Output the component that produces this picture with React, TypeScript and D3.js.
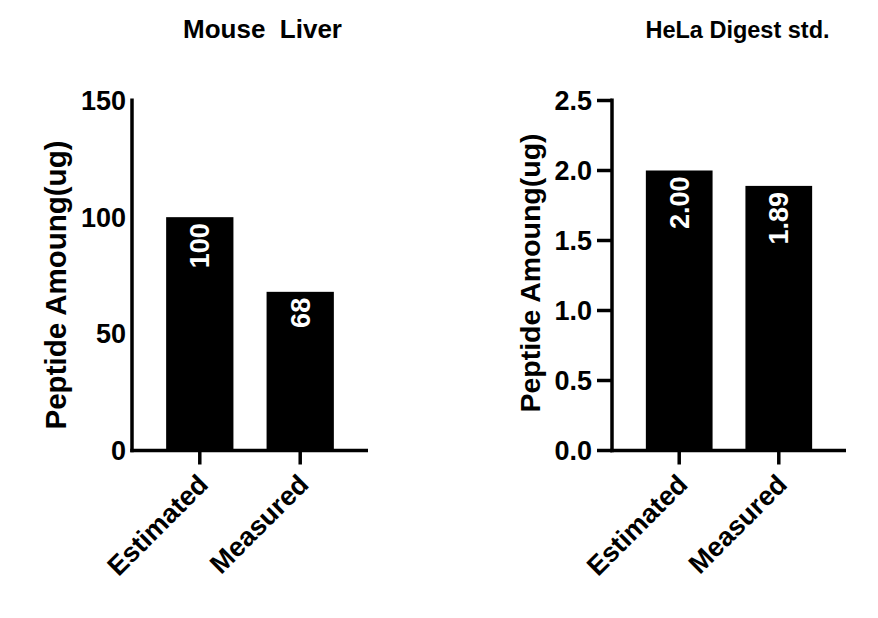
import * as d3 from 'd3';

// chart data
const categories = ['Estimated', 'Measured'];
const mouseLiverValues = [100, 68];
const mouseLiverTicks = [0, 50, 100, 150];
const helaValues = [2.0, 1.89];
const helaTicks = [0, 0.5, 1.0, 1.5, 2.0, 2.5];
const panelTitles = ['Mouse  Liver', 'HeLa Digest std.'];
const yAxisTitle = 'Peptide Amoung(ug)';

const FONT = "'Liberation Sans', Arial, sans-serif";
const W = 878;
const H = 618;

const Panel = ({ values, ticks, title, titleX, titleSize, tickFmt, valueFmt, left, right, showTicks, labelX, labelY, labelSize }) => {
  const baseY = 450.5;
  const x = d3.scaleBand().domain(categories).range([left, right]).paddingInner(0.33).paddingOuter(0.34);
  const y = d3.scaleLinear().domain([0, d3.max(ticks)]).range([baseY, 100.5]);
  const fy = d3.format(tickFmt);
  const fv = d3.format(valueFmt);
  const tickLen = 14;

  return (
    <g>
      <text
        x={titleX}
        y={38}
        textAnchor="middle"
        fontSize={titleSize}
        fontWeight="bold"
        style={{ whiteSpace: 'pre' }}
      >
        {title}
      </text>

      {categories.map((c, i) => (
        <rect key={c} x={x(c)} y={y(values[i])} width={x.bandwidth()} height={baseY - y(values[i])} fill="#000" />
      ))}

      {categories.map((c, i) => {
        const cx = x(c) + x.bandwidth() / 2;
        return (
          <text
            key={c}
            transform={`translate(${cx},${y(values[i]) + 6}) rotate(-90)`}
            textAnchor="end"
            dy="0.35em"
            fill="#fff"
            fontSize={27}
            fontWeight="bold"
          >
            {fv(values[i])}
          </text>
        );
      })}

      {/* axes */}
      <line x1={left} x2={left} y1={y(d3.max(ticks)) - 2} y2={baseY + 1.75} stroke="#000" strokeWidth={3.5} />
      <line x1={left - 1.75} x2={right} y1={baseY} y2={baseY} stroke="#000" strokeWidth={3.5} />

      {ticks.map(t => (
        <g key={t}>
          {showTicks && <line x1={left - 15} x2={left} y1={y(t)} y2={y(t)} stroke="#000" strokeWidth={3.5} />}
          <text
            x={showTicks ? left - 20 : left - 6}
            y={y(t)}
            dy="0.35em"
            textAnchor="end"
            fontSize={27}
            fontWeight="bold"
          >
            {fy(t)}
          </text>
        </g>
      ))}

      {categories.map(c => {
        const cx = x(c) + x.bandwidth() / 2;
        return (
          <g key={c}>
            <line x1={cx} x2={cx} y1={baseY} y2={baseY + tickLen} stroke="#000" strokeWidth={3.5} />
            <text
              transform={`translate(${cx + 10},${486}) rotate(-45)`}
              textAnchor="end"
              fontSize={27}
              fontWeight="bold"
            >
              {c}
            </text>
          </g>
        );
      })}

      <text
        transform={`translate(${labelX},${labelY}) rotate(-90)`}
        textAnchor="middle"
        fontSize={labelSize}
        fontWeight="bold"
      >
        {yAxisTitle}
      </text>
    </g>
  );
};

export default function App() {
  return (
    <svg
      width={W}
      height={H}
      style={{ position: 'absolute', left: 0, top: 0, background: '#fff' }}
      fontFamily={FONT}
    >
      <rect width={W} height={H} fill="#fff" />
      <Panel
        values={mouseLiverValues}
        ticks={mouseLiverTicks}
        title={panelTitles[0]}
        titleX={262.5}
        titleSize={26}
        tickFmt="d"
        valueFmt="d"
        left={132}
        right={368}
        showTicks={false}
        labelX={65.5}
        labelY={285}
        labelSize={29.5}
      />
      <Panel
        values={helaValues}
        ticks={helaTicks}
        title={panelTitles[1]}
        titleX={737.5}
        titleSize={23.5}
        tickFmt=".1f"
        valueFmt=".2f"
        left={612}
        right={846}
        showTicks={true}
        labelX={540}
        labelY={273}
        labelSize={28.5}
      />
    </svg>
  );
}
